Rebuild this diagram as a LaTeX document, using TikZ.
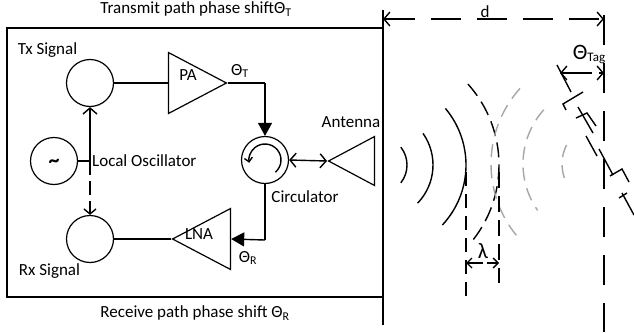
\documentclass[tikz,border=0pt]{standalone}
\usepackage{fontspec}
\setmainfont{Carlito}
\usetikzlibrary{shapes.geometric,arrows.meta,calc}
\tikzset{
    mixer/.style={draw, circle, line width=1.2pt, minimum size=47pt, inner sep=0},
    amp/.style={draw, isosceles triangle, isosceles triangle stretches, line width=1.2pt, inner sep=0, minimum width=61pt, minimum height=58pt, anchor=apex},
    lbl/.style={font=\fontsize{17}{19}\selectfont, inner sep=0},
    wire/.style={line width=1.4pt},
    barb/.style={line width=1.4pt, >={Straight Barb[length=6pt,width=14pt]}},
    solid tip/.style={line width=1.4pt, -{Triangle[length=13pt,width=14pt]}},
    wave/.style={line width=1.4pt},
    grey wave/.style={line width=1.4pt, color=black!35, dash pattern=on 13pt off 8pt},
    thin part/.style={line width=1.4pt},
}
\begin{document}
\begin{tikzpicture}[x=1pt, y=-1pt]
    \useasboundingbox (0,0) rectangle (634,332);
    \draw[line width=1.7pt] (7,28) rectangle (383,297);
    \coordinate (top) at (383,10);
    \coordinate (bottom) at (383,325);
    \draw[line width=1.4pt] (top) -- (bottom);

    \node (txsignal) [mixer] at (90,83) {};
    \node (lo) [mixer] at (54,161) {};
    \node (rxsignal) [mixer] at (90,239) {};
    \node (circulator) [mixer] at (265,160) {};
    \node (pa) [amp] at (228,83) {};
    \node (lna) [amp, shape border rotate=180] at (171,239) {};
    \node (antenna) [amp, shape border rotate=180, minimum width=49pt, minimum height=46pt] at (327,161) {};
    \coordinate (losplit) at (90,161);
    \coordinate (paout) at (265,83);
    \coordinate (lnain) at (265,240);

    \node (tilde) [lbl, font=\fontsize{22}{24}\selectfont] at (54,163) {\textbf{\char`\~}};
    \node (patext) [lbl] at (188,75) {PA};
    \node (lnatext) [lbl] at (199,234) {LNA};
    \node (txtext) [lbl] at (47.5,50) {Tx Signal};
    \node (rxtext) [lbl] at (49.5,271) {Rx Signal};
    \node (lotext) [lbl, anchor=west] at (92,161) {Local Oscillator};
    \node (circtext) [lbl] at (305,197) {Circulator};
    \node (anttext) [lbl] at (351,122) {Antenna};
    \node (thetat) [lbl] at (240,71) {Θ\textsubscript{T}};
    \node (thetar) [lbl] at (248,258) {Θ\textsubscript{R}};
    \node (txpath) [lbl] at (196,9) {Transmit path phase shiftΘ\textsubscript{T}};
    \node (rxpath) [lbl] at (195,313) {Receive path phase shift Θ\textsubscript{R}};
    \node (dtext) [lbl] at (485,12) {d};
    \node (lambda) [lbl, font=\fontsize{22}{24}\selectfont] at (483,251) {λ};
    \node (thetatag) [lbl] at (589,54) {{\fontsize{22}{24}\selectfont Θ}\raisebox{-2pt}{\fontsize{13}{15}\selectfont Tag}};

    \draw[wire] (txsignal.east) -- (pa.lower side);
    \draw[wire] (pa.apex) -- (paout);
    \draw[solid tip] (paout) -- (circulator.north);
    \draw[wire] (circulator.south) -- (lnain);
    \draw[solid tip] (lnain) -- (lna.lower side);
    \draw[wire] (lna.apex) -- (rxsignal.east);
    \draw[wire] (lo.east) -- (losplit);
    \draw[barb, ->] (losplit) -- (txsignal.south);
    \draw[line width=1.4pt, dash pattern=on 14pt off 6pt, ->, >={Straight Barb[length=5pt,width=12pt]}] (losplit) -- (rxsignal.north);
    \draw[barb, <->] (circulator.east) -- (antenna.apex);
    \draw[wire, ->, >={Straight Barb[length=4pt,width=8pt]}] ($(circulator)+(50:16)$) arc[start angle=50, end angle=-190, radius=16];

    % distance d
    \coordinate (dleft) at (383,19);
    \coordinate (dright) at (604,19);
    \draw[barb, <->, dash pattern=on 30pt off 16pt] (dleft) -- (dright);
    \coordinate (tagtop) at (604,15);
    \coordinate (tagbottom) at (604,332);
    \draw[line width=1.4pt, dash pattern=on 30pt off 18pt] (tagtop) -- (tagbottom);

    % waves
    \coordinate (txwave) at (378,165);
    \coordinate (rxwave) at (604,164);
    \draw[wave] ($(txwave)+(-38:29)$) arc[start angle=-38, end angle=38, radius=29];
    \draw[wave] ($(txwave)+(-35:55)$) arc[start angle=-35, end angle=44, radius=55];
    \draw[wave] ($(txwave)+(-40:88)$) arc[start angle=-40, end angle=43, radius=88];
    \draw[wave, dash pattern=on 15pt off 7pt] ($(txwave)+(-42:121)$) arc[start angle=-42, end angle=41, radius=121];
    \draw[grey wave] ($(rxwave)+(222:113)$) arc[start angle=222, end angle=138, radius=113];
    \draw[grey wave] ($(rxwave)+(222:81)$) arc[start angle=222, end angle=145, radius=81];
    \draw[grey wave] ($(rxwave)+(207:42)$) arc[start angle=207, end angle=160, radius=42];

    % wavelength
    \draw[thin part, dash pattern=on 14pt off 8pt] (466,172) -- (466,298);
    \draw[thin part, dash pattern=on 16pt off 8pt] (499,172) -- (499,283);
    \coordinate (lambdaleft) at (466,263);
    \coordinate (lambdaright) at (499,263);
    \draw[thin part, <->, >={Straight Barb[length=5pt,width=10pt]}, dash pattern=on 15pt off 4pt] (lambdaleft) -- (lambdaright);

    % tag
    \draw[barb, <->, dash pattern=on 30pt off 7pt] (560,73) -- (604,73);
    \draw[thin part] (557,65) -- (571,92);
    \draw[thin part] (583,92) -- (563,104) -- (566,110);
    \draw[thin part] (578,107) -- (593,133);
    \draw[thin part] (576,118) -- (587,113) -- (596,126);
    \draw[thin part] (586,136) -- (597,156);
    \draw[thin part] (599,149) -- (613,175);
    \draw[thin part] (610,176) -- (622,169) -- (629,182);
    \draw[thin part] (622,193) -- (634,215);
    \draw[thin part] (619,198) -- (627,193);
\end{tikzpicture}
\end{document}
